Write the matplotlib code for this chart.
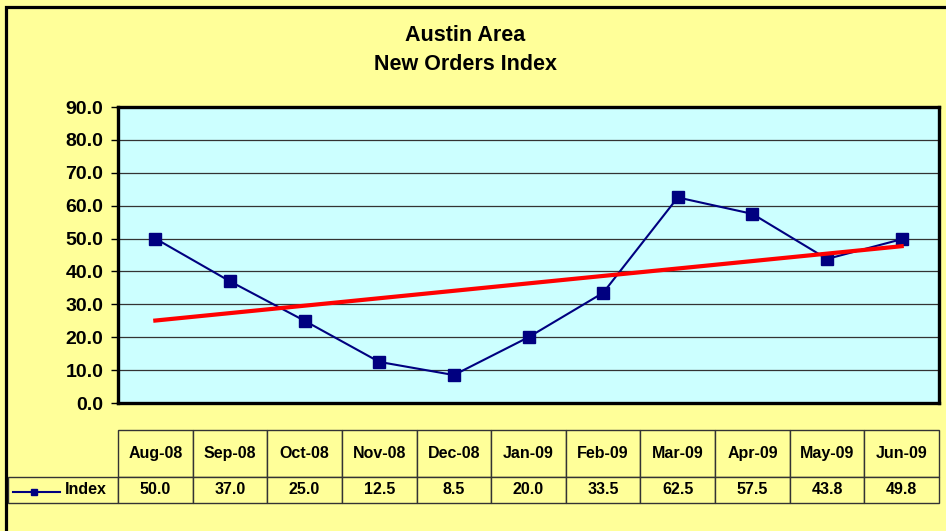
import numpy as np
import matplotlib.pyplot as plt
from matplotlib.lines import Line2D
from matplotlib.patches import Rectangle

plt.rcParams['font.family'] = ['Liberation Sans', 'DejaVu Sans']
plt.rcParams['font.weight'] = 'bold'

# Données
mois = ['Aug-08', 'Sep-08', 'Oct-08', 'Nov-08', 'Dec-08', 'Jan-09',
        'Feb-09', 'Mar-09', 'Apr-09', 'May-09', 'Jun-09']
indice = [50.0, 37.0, 25.0, 12.5, 8.5, 20.0, 33.5, 62.5, 57.5, 43.8, 49.8]
ticks_y = [0, 10, 20, 30, 40, 50, 60, 70, 80, 90]

W, H = 946, 531
fig = plt.figure(figsize=(W / 100, H / 100), dpi=100, facecolor='#FFFF99')

# cadre noir en haut et à gauche
fig.patches.append(Rectangle((5.5 / W, -0.1), 1.2, 1.1 - 6.5 / H,
                             transform=fig.transFigure, fill=False,
                             edgecolor='black', linewidth=2.3))

ax_w, ax_h = 821, 296
ax = fig.add_axes([118 / W, 1 - 403 / H, ax_w / W, ax_h / H])
ax.set_facecolor('#CCFFFF')

x = np.arange(len(mois))
ax.plot(x, indice, color='#000080', linewidth=1.5, marker='s',
        markersize=8, zorder=3)

# tendance linéaire
coef = np.polyfit(x, indice, 1)
ax.plot(x, np.polyval(coef, x), color='#FF0000', linewidth=3, zorder=4)

ax.set_xlim(-0.5, len(mois) - 0.5)
ax.set_ylim(0, 90)
ax.set_yticks(ticks_y)
ax.set_yticklabels([f'{v:.1f}' for v in ticks_y], fontsize=14,
                   fontweight='bold')
ax.tick_params(axis='y', direction='out', length=5, width=1, pad=5.5)
ax.set_xticks([])
ax.grid(axis='y', color='#333333', linewidth=0.9)
ax.set_axisbelow(True)
for s in ax.spines.values():
    s.set_linewidth(2.4)

fig.text(465 / W, 1 - 50 / H, 'Austin Area\nNew Orders Index', ha='center',
         va='center', fontsize=15.5, fontweight='bold', linespacing=1.55)

# tableau de données sous le graphique
lbl_w = 110 / ax_w
tab = ax.table(cellText=[[f'{v:.1f}' for v in indice]], colLabels=mois,
               rowLabels=['Index'], cellLoc='center', rowLoc='right',
               bbox=[0, -100 / ax_h, 1, 73 / ax_h])
tab.auto_set_font_size(False)
tab._autoColumns = []  # largeur fixe pour la colonne de légende
for (r, c), cell in tab.get_celld().items():
    cell.set_facecolor('#FFFF99')
    cell.set_edgecolor('#333333')
    cell.set_linewidth(1.0)
    cell.set_height((47 if r == 0 else 26) / ax_h)
    cell.set_width(lbl_w if c == -1 else 1 / len(mois))
    cell.get_text().set_fontsize(11.5)
    cell.get_text().set_fontweight('bold')
    if c == -1:
        cell.PAD = 0.1

# symbole de légende
fig.add_artist(Line2D([13 / W, 60 / W], [1 - 492 / H, 1 - 492 / H],
                      transform=fig.transFigure, color='#000080',
                      linewidth=1.5, zorder=5))
fig.add_artist(Line2D([34 / W], [1 - 492 / H], transform=fig.transFigure,
                      color='#000080', marker='s', markersize=5,
                      linestyle='none', zorder=5))

fig.savefig('out.png', dpi=100, facecolor=fig.get_facecolor())
